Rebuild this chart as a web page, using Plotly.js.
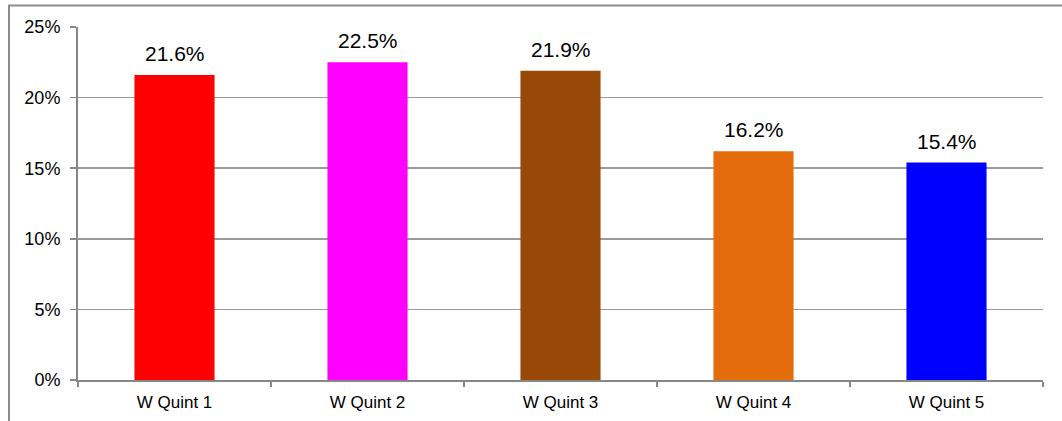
<!DOCTYPE html>
<html>
<head>
<meta charset="utf-8">
<script src="https://cdn.plot.ly/plotly-3.0.1.min.js"></script>
<style>
  html, body { margin: 0; padding: 0; background: #ffffff; }
  #chart { width: 1062px; height: 421px; }
</style>
</head>
<body>
<div id="chart"></div>
<script>
// Share by wealth quintile (percent)
const categories = ['W Quint 1', 'W Quint 2', 'W Quint 3', 'W Quint 4', 'W Quint 5'];
const shares = [21.6, 22.5, 21.9, 16.2, 15.4];
const barColors = ['#FF0000', '#FF00FF', '#984807', '#E46C0A', '#0000FF'];
const yTickValues = [0, 5, 10, 15, 20, 25];
const yTickLabels = ['0%', '5%', '10%', '15%', '20%', '25%'];

const fontFamily = 'Liberation Sans, Arial, sans-serif';

const trace = {
  type: 'bar',
  x: categories,
  y: shares,
  marker: { color: barColors, line: { width: 0 } },
  cliponaxis: false,
  hoverinfo: 'none'
};

// value labels sitting above each bar
const valueLabels = categories.map((c, i) => ({
  x: c,
  y: shares[i],
  xref: 'x',
  yref: 'y',
  text: shares[i].toFixed(1) + '%',
  showarrow: false,
  yanchor: 'bottom',
  yshift: 8,
  font: { family: fontFamily, size: 21, color: '#000000' }
}));

const layout = {
  width: 1062,
  height: 421,
  margin: { l: 78, r: 19, t: 27, b: 41, pad: 0 },
  paper_bgcolor: '#ffffff',
  plot_bgcolor: '#ffffff',
  font: { family: fontFamily, color: '#000000' },
  showlegend: false,
  bargap: 0.585,
  annotations: valueLabels,
  xaxis: {
    type: 'category',
    showline: true,
    linecolor: '#878787',
    linewidth: 2,
    ticks: 'outside',
    tickson: 'boundaries',
    ticklen: 5,
    tickwidth: 1.5,
    tickcolor: '#878787',
    tickfont: { size: 17, color: '#000000' },
    ticklabelstandoff: 6,
    showgrid: false,
    zeroline: false,
    fixedrange: true
  },
  yaxis: {
    range: [0, 25],
    tickvals: yTickValues,
    ticktext: yTickLabels,
    showline: true,
    linecolor: '#878787',
    linewidth: 2,
    ticks: 'outside',
    ticklen: 6,
    tickwidth: 1.5,
    tickcolor: '#878787',
    tickfont: { size: 18, color: '#000000' },
    ticklabelstandoff: 6,
    showgrid: true,
    gridcolor: '#9a9a9a',
    gridwidth: 1.5,
    zeroline: false,
    fixedrange: true
  },
  shapes: [
    {
      type: 'rect', xref: 'paper', yref: 'paper',
      x0: -0.0715, x1: 1.2, y0: -0.3, y1: 1.061,
      line: { color: '#8c8c8c', width: 2 },
      fillcolor: 'rgba(0,0,0,0)',
      layer: 'below'
    }
  ]
};

Plotly.newPlot('chart', [trace], layout, { staticPlot: true, displayModeBar: false });
</script>
</body>
</html>
